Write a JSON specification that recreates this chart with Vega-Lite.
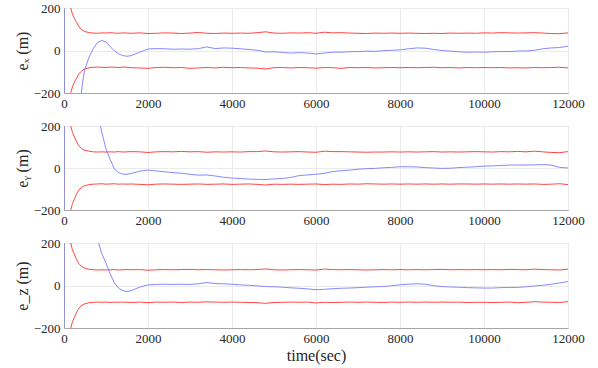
{
  "$schema": "https://vega.github.io/schema/vega-lite/v6.json",
  "background": "white",
  "padding": {"left": 13, "top": 1, "right": 5, "bottom": 5},
  "bounds": "flush",
  "spacing": 33,
  "config": {
    "font": "Liberation Serif",
    "view": {"stroke": "#a6a6a6", "strokeWidth": 1},
    "axis": {
      "labelFont": "Liberation Serif",
      "titleFont": "Liberation Serif",
      "labelFontSize": 13,
      "titleFontSize": 16,
      "titleFontWeight": "normal",
      "labelColor": "#262626",
      "titleColor": "#262626",
      "domainColor": "#a6a6a6",
      "gridColor": "#ebebeb",
      "ticks": false,
      "labelPadding": 4,
      "labelFlush": false,
      "labelOverlap": false,
      "format": "d"
    }
  },
  "datasets": {
    "dx": [
      {"t":0,"u":3000,"l":-3000,"e":400},
      {"t":10,"u":2800,"l":-2800,"e":-2000},
      {"t":100,"u":400,"l":-400,"e":-1400},
      {"t":160,"u":200,"l":-200,"e":-1100},
      {"t":200,"u":172,"l":-172,"e":-900},
      {"t":250,"u":150,"l":-148,"e":-720},
      {"t":300,"u":132,"l":-130,"e":-550},
      {"t":350,"u":114,"l":-112,"e":-400},
      {"t":400,"u":101,"l":-100,"e":-220},
      {"t":450,"u":94,"l":-92,"e":-140},
      {"t":500,"u":89,"l":-87,"e":-85},
      {"t":600,"u":84,"l":-81,"e":-30},
      {"t":700,"u":82,"l":-79,"e":10},
      {"t":800,"u":81,"l":-78,"e":38},
      {"t":900,"u":83,"l":-79,"e":47},
      {"t":1000,"u":82,"l":-80,"e":40},
      {"t":1100,"u":84,"l":-78,"e":18},
      {"t":1200,"u":82,"l":-79,"e":-2},
      {"t":1300,"u":81,"l":-80,"e":-16},
      {"t":1400,"u":83,"l":-78,"e":-24},
      {"t":1500,"u":82,"l":-79,"e":-27},
      {"t":1600,"u":81,"l":-81,"e":-24},
      {"t":1800,"u":83,"l":-82,"e":-8},
      {"t":2000,"u":80,"l":-84,"e":7},
      {"t":2200,"u":81,"l":-80,"e":9},
      {"t":2400,"u":83,"l":-79,"e":8},
      {"t":2600,"u":82,"l":-81,"e":6},
      {"t":2800,"u":80,"l":-80,"e":7},
      {"t":3000,"u":82,"l":-84,"e":6},
      {"t":3200,"u":85,"l":-82,"e":9},
      {"t":3400,"u":81,"l":-80,"e":17},
      {"t":3600,"u":80,"l":-82,"e":9},
      {"t":3800,"u":82,"l":-79,"e":12},
      {"t":4000,"u":81,"l":-81,"e":11},
      {"t":4200,"u":82,"l":-80,"e":8},
      {"t":4400,"u":81,"l":-82,"e":5},
      {"t":4600,"u":84,"l":-83,"e":1},
      {"t":4800,"u":88,"l":-87,"e":-7},
      {"t":5000,"u":82,"l":-81,"e":-6},
      {"t":5200,"u":81,"l":-80,"e":-9},
      {"t":5400,"u":83,"l":-82,"e":-12},
      {"t":5600,"u":82,"l":-80,"e":-10},
      {"t":5800,"u":84,"l":-81,"e":-12},
      {"t":6000,"u":81,"l":-83,"e":-16},
      {"t":6200,"u":86,"l":-80,"e":-12},
      {"t":6400,"u":83,"l":-81,"e":-8},
      {"t":6600,"u":84,"l":-84,"e":-8},
      {"t":6800,"u":82,"l":-80,"e":-6},
      {"t":7000,"u":81,"l":-81,"e":-5},
      {"t":7200,"u":80,"l":-80,"e":-3},
      {"t":7400,"u":82,"l":-82,"e":-4},
      {"t":7600,"u":81,"l":-81,"e":-1},
      {"t":7800,"u":82,"l":-80,"e":1},
      {"t":8000,"u":81,"l":-81,"e":3},
      {"t":8200,"u":82,"l":-80,"e":8},
      {"t":8400,"u":81,"l":-81,"e":12},
      {"t":8600,"u":80,"l":-80,"e":11},
      {"t":8800,"u":81,"l":-79,"e":5},
      {"t":9000,"u":80,"l":-81,"e":0},
      {"t":9200,"u":82,"l":-80,"e":-3},
      {"t":9400,"u":81,"l":-82,"e":-6},
      {"t":9600,"u":82,"l":-80,"e":-8},
      {"t":9800,"u":81,"l":-81,"e":-7},
      {"t":10000,"u":83,"l":-80,"e":-8},
      {"t":10200,"u":82,"l":-81,"e":-6},
      {"t":10400,"u":84,"l":-80,"e":-5},
      {"t":10600,"u":83,"l":-82,"e":-5},
      {"t":10800,"u":82,"l":-81,"e":-3},
      {"t":11000,"u":83,"l":-82,"e":-2},
      {"t":11200,"u":84,"l":-80,"e":1},
      {"t":11400,"u":82,"l":-81,"e":8},
      {"t":11600,"u":80,"l":-80,"e":12},
      {"t":11800,"u":79,"l":-79,"e":14},
      {"t":12000,"u":83,"l":-82,"e":20}
    ],
    "dy": [
      {"t":0,"u":3000,"l":-3000,"e":-400},
      {"t":10,"u":2800,"l":-2800,"e":3000},
      {"t":100,"u":400,"l":-400,"e":2500},
      {"t":160,"u":200,"l":-200,"e":2150},
      {"t":200,"u":170,"l":-170,"e":1950},
      {"t":300,"u":125,"l":-124,"e":1500},
      {"t":350,"u":107,"l":-106,"e":1300},
      {"t":400,"u":96,"l":-95,"e":1100},
      {"t":450,"u":88,"l":-88,"e":950},
      {"t":500,"u":84,"l":-84,"e":800},
      {"t":600,"u":80,"l":-79,"e":580},
      {"t":700,"u":77,"l":-77,"e":400},
      {"t":800,"u":76,"l":-76,"e":260},
      {"t":900,"u":77,"l":-75,"e":170},
      {"t":1000,"u":76,"l":-77,"e":90},
      {"t":1100,"u":77,"l":-76,"e":40},
      {"t":1200,"u":76,"l":-75,"e":-5},
      {"t":1300,"u":78,"l":-77,"e":-22},
      {"t":1400,"u":76,"l":-76,"e":-29},
      {"t":1500,"u":77,"l":-77,"e":-30},
      {"t":1600,"u":78,"l":-76,"e":-26},
      {"t":1800,"u":77,"l":-78,"e":-15},
      {"t":2000,"u":74,"l":-80,"e":-10},
      {"t":2200,"u":77,"l":-77,"e":-14},
      {"t":2400,"u":78,"l":-76,"e":-18},
      {"t":2600,"u":77,"l":-77,"e":-22},
      {"t":2800,"u":79,"l":-78,"e":-25},
      {"t":3000,"u":77,"l":-77,"e":-30},
      {"t":3200,"u":78,"l":-76,"e":-34},
      {"t":3400,"u":75,"l":-78,"e":-33},
      {"t":3600,"u":77,"l":-77,"e":-38},
      {"t":3800,"u":76,"l":-76,"e":-44},
      {"t":4000,"u":77,"l":-78,"e":-48},
      {"t":4200,"u":76,"l":-77,"e":-50},
      {"t":4400,"u":78,"l":-76,"e":-53},
      {"t":4600,"u":78,"l":-78,"e":-54},
      {"t":4800,"u":81,"l":-81,"e":-55},
      {"t":5000,"u":77,"l":-77,"e":-52},
      {"t":5200,"u":76,"l":-78,"e":-50},
      {"t":5400,"u":77,"l":-77,"e":-45},
      {"t":5600,"u":78,"l":-78,"e":-36},
      {"t":5800,"u":76,"l":-77,"e":-33},
      {"t":6000,"u":75,"l":-76,"e":-30},
      {"t":6200,"u":80,"l":-79,"e":-25},
      {"t":6400,"u":78,"l":-77,"e":-17},
      {"t":6600,"u":78,"l":-78,"e":-13},
      {"t":6800,"u":77,"l":-76,"e":-10},
      {"t":7000,"u":76,"l":-77,"e":-6},
      {"t":7200,"u":75,"l":-75,"e":-3},
      {"t":7400,"u":76,"l":-76,"e":-2},
      {"t":7600,"u":76,"l":-77,"e":1},
      {"t":7800,"u":77,"l":-76,"e":3},
      {"t":8000,"u":76,"l":-77,"e":6},
      {"t":8200,"u":77,"l":-76,"e":6},
      {"t":8400,"u":76,"l":-77,"e":5},
      {"t":8600,"u":77,"l":-76,"e":2},
      {"t":8800,"u":78,"l":-77,"e":0},
      {"t":9000,"u":76,"l":-76,"e":-2},
      {"t":9200,"u":77,"l":-77,"e":-1},
      {"t":9400,"u":76,"l":-76,"e":2},
      {"t":9600,"u":77,"l":-76,"e":4},
      {"t":9800,"u":78,"l":-77,"e":6},
      {"t":10000,"u":77,"l":-76,"e":9},
      {"t":10200,"u":76,"l":-77,"e":10},
      {"t":10400,"u":78,"l":-76,"e":12},
      {"t":10600,"u":77,"l":-77,"e":14},
      {"t":10800,"u":79,"l":-76,"e":14},
      {"t":11000,"u":77,"l":-77,"e":14},
      {"t":11200,"u":80,"l":-76,"e":15},
      {"t":11400,"u":77,"l":-78,"e":16},
      {"t":11600,"u":74,"l":-77,"e":14},
      {"t":11800,"u":73,"l":-75,"e":3},
      {"t":12000,"u":78,"l":-79,"e":0}
    ],
    "dz": [
      {"t":0,"u":3000,"l":-3000,"e":-400},
      {"t":10,"u":2800,"l":-2800,"e":3000},
      {"t":100,"u":400,"l":-400,"e":2400},
      {"t":160,"u":200,"l":-200,"e":2050},
      {"t":200,"u":168,"l":-172,"e":1850},
      {"t":300,"u":122,"l":-126,"e":1400},
      {"t":350,"u":104,"l":-108,"e":1200},
      {"t":400,"u":93,"l":-97,"e":1000},
      {"t":450,"u":86,"l":-90,"e":850},
      {"t":500,"u":81,"l":-86,"e":700},
      {"t":600,"u":76,"l":-81,"e":490},
      {"t":700,"u":74,"l":-79,"e":330},
      {"t":800,"u":73,"l":-78,"e":215},
      {"t":900,"u":74,"l":-79,"e":150},
      {"t":1000,"u":73,"l":-78,"e":105},
      {"t":1100,"u":74,"l":-80,"e":55},
      {"t":1200,"u":75,"l":-78,"e":12},
      {"t":1300,"u":73,"l":-79,"e":-12},
      {"t":1400,"u":74,"l":-78,"e":-24},
      {"t":1500,"u":75,"l":-79,"e":-28},
      {"t":1600,"u":74,"l":-80,"e":-24},
      {"t":1800,"u":75,"l":-78,"e":-8},
      {"t":2000,"u":72,"l":-81,"e":3},
      {"t":2200,"u":74,"l":-78,"e":5},
      {"t":2400,"u":75,"l":-79,"e":6},
      {"t":2600,"u":74,"l":-78,"e":5},
      {"t":2800,"u":75,"l":-80,"e":6},
      {"t":3000,"u":76,"l":-78,"e":5},
      {"t":3200,"u":74,"l":-79,"e":8},
      {"t":3400,"u":75,"l":-77,"e":14},
      {"t":3600,"u":74,"l":-78,"e":9},
      {"t":3800,"u":73,"l":-79,"e":8},
      {"t":4000,"u":74,"l":-78,"e":6},
      {"t":4200,"u":75,"l":-79,"e":3},
      {"t":4400,"u":74,"l":-80,"e":1},
      {"t":4600,"u":75,"l":-81,"e":-2},
      {"t":4800,"u":78,"l":-84,"e":-5},
      {"t":5000,"u":74,"l":-80,"e":-6},
      {"t":5200,"u":73,"l":-79,"e":-8},
      {"t":5400,"u":74,"l":-78,"e":-11},
      {"t":5600,"u":75,"l":-79,"e":-13},
      {"t":5800,"u":74,"l":-78,"e":-16},
      {"t":6000,"u":73,"l":-82,"e":-20},
      {"t":6200,"u":77,"l":-79,"e":-18},
      {"t":6400,"u":75,"l":-80,"e":-15},
      {"t":6600,"u":74,"l":-79,"e":-13},
      {"t":6800,"u":75,"l":-78,"e":-12},
      {"t":7000,"u":74,"l":-79,"e":-10},
      {"t":7200,"u":73,"l":-78,"e":-8},
      {"t":7400,"u":74,"l":-79,"e":-6},
      {"t":7600,"u":75,"l":-80,"e":-5},
      {"t":7800,"u":74,"l":-78,"e":-1},
      {"t":8000,"u":75,"l":-79,"e":3},
      {"t":8200,"u":74,"l":-78,"e":6},
      {"t":8400,"u":75,"l":-79,"e":8},
      {"t":8600,"u":74,"l":-78,"e":6},
      {"t":8800,"u":75,"l":-79,"e":-1},
      {"t":9000,"u":76,"l":-78,"e":-5},
      {"t":9200,"u":74,"l":-79,"e":-7},
      {"t":9400,"u":75,"l":-78,"e":-8},
      {"t":9600,"u":74,"l":-80,"e":-10},
      {"t":9800,"u":75,"l":-79,"e":-11},
      {"t":10000,"u":74,"l":-79,"e":-12},
      {"t":10200,"u":75,"l":-80,"e":-12},
      {"t":10400,"u":74,"l":-79,"e":-10},
      {"t":10600,"u":76,"l":-78,"e":-9},
      {"t":10800,"u":75,"l":-81,"e":-9},
      {"t":11000,"u":74,"l":-79,"e":-6},
      {"t":11200,"u":77,"l":-76,"e":-2},
      {"t":11400,"u":75,"l":-78,"e":1},
      {"t":11600,"u":74,"l":-79,"e":6},
      {"t":11800,"u":73,"l":-80,"e":12},
      {"t":12000,"u":77,"l":-76,"e":19}
    ]
  },
  "vconcat": [
    {
      "width": 504, "height": 85,
      "data": {"name": "dx"},
      "encoding": {
        "x": {"field": "t", "type": "quantitative", "scale": {"domain": [0, 12000], "nice": false}, "axis": {"values": [0,2000,4000,6000,8000,10000,12000], "format": "d", "title": null, "grid": true}}
      },
      "layer": [
        {"mark": {"type": "line", "color": "#ff3030", "strokeWidth": 0.9, "clip": true},
         "encoding": {"y": {"field": "u", "type": "quantitative", "scale": {"domain": [-200, 200], "nice": false}, "axis": {"values": [-200, 0, 200], "format": "d", "title": "eₓ  (m)", "titlePadding": 3, "grid": true}}}},
        {"mark": {"type": "line", "color": "#ff3030", "strokeWidth": 0.9, "clip": true},
         "encoding": {"y": {"field": "l", "type": "quantitative"}}},
        {"mark": {"type": "line", "color": "#7a7aff", "strokeWidth": 0.9, "clip": true},
         "encoding": {"y": {"field": "e", "type": "quantitative"}}}
      ]
    },
    {
      "width": 504, "height": 84,
      "data": {"name": "dy"},
      "encoding": {
        "x": {"field": "t", "type": "quantitative", "scale": {"domain": [0, 12000], "nice": false}, "axis": {"values": [0,2000,4000,6000,8000,10000,12000], "format": "d", "title": null, "grid": true}}
      },
      "layer": [
        {"mark": {"type": "line", "color": "#ff3030", "strokeWidth": 0.9, "clip": true},
         "encoding": {"y": {"field": "u", "type": "quantitative", "scale": {"domain": [-200, 200], "nice": false}, "axis": {"values": [-200, 0, 200], "format": "d", "title": "eᵧ  (m)", "titlePadding": 3, "grid": true}}}},
        {"mark": {"type": "line", "color": "#ff3030", "strokeWidth": 0.9, "clip": true},
         "encoding": {"y": {"field": "l", "type": "quantitative"}}},
        {"mark": {"type": "line", "color": "#7a7aff", "strokeWidth": 0.9, "clip": true},
         "encoding": {"y": {"field": "e", "type": "quantitative"}}}
      ]
    },
    {
      "width": 504, "height": 85,
      "data": {"name": "dz"},
      "encoding": {
        "x": {"field": "t", "type": "quantitative", "scale": {"domain": [0, 12000], "nice": false}, "axis": {"values": [0,2000,4000,6000,8000,10000,12000], "format": "d", "title": "time(sec)", "titlePadding": 2, "grid": true}}
      },
      "layer": [
        {"mark": {"type": "line", "color": "#ff3030", "strokeWidth": 0.9, "clip": true},
         "encoding": {"y": {"field": "u", "type": "quantitative", "scale": {"domain": [-200, 200], "nice": false}, "axis": {"values": [-200, 0, 200], "format": "d", "title": "e_z  (m)", "titlePadding": 3, "grid": true}}}},
        {"mark": {"type": "line", "color": "#ff3030", "strokeWidth": 0.9, "clip": true},
         "encoding": {"y": {"field": "l", "type": "quantitative"}}},
        {"mark": {"type": "line", "color": "#7a7aff", "strokeWidth": 0.9, "clip": true},
         "encoding": {"y": {"field": "e", "type": "quantitative"}}}
      ]
    }
  ]
}
